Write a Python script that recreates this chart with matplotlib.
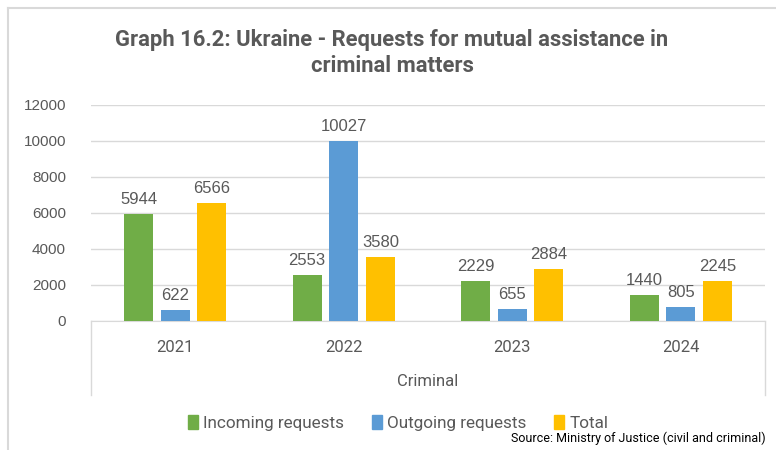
import matplotlib
matplotlib.use("Agg")
import matplotlib.pyplot as plt
from matplotlib.lines import Line2D
from matplotlib.patches import Patch

years = ["2021", "2022", "2023", "2024"]
incoming = [5944, 2553, 2229, 1440]
outgoing = [622, 10027, 655, 805]
total = [6566, 3580, 2884, 2245]
series_names = ["Incoming requests", "Outgoing requests", "Total"]
colors = ["#70AD47", "#5B9BD5", "#FFC000"]
yticks = [0, 2000, 4000, 6000, 8000, 10000, 12000]

W, H = 776, 450
fig = plt.figure(figsize=(W / 100, H / 100), dpi=100)
fig.patch.set_facecolor("white")

def fx(px):
    return px / W

def fy(py):
    return 1 - py / H

ax_l, ax_r, ax_t, ax_b = 91, 765, 105, 321
ax = fig.add_axes([fx(ax_l), fy(ax_b), fx(ax_r) - fx(ax_l), fy(ax_t) - fy(ax_b)])

gray = "#595959"
x = list(range(len(years)))
bw = 0.172
off = 0.218
for i, (vals, c) in enumerate(zip([incoming, outgoing, total], colors)):
    pos = [xi + (i - 1) * off for xi in x]
    bars = ax.bar(pos, vals, width=bw, color=c, zorder=3)
    for b, v in zip(bars, vals):
        ax.text(b.get_x() + b.get_width() / 2, v + 380, str(v), ha="center", va="bottom",
                fontsize=12, color=gray, family="Liberation Sans")

ax.set_xlim(-0.5, 3.5)
ax.set_ylim(0, 12000)
ax.set_yticks(yticks)
ax.set_yticklabels([str(t) for t in yticks], fontsize=11, color=gray, family="Liberation Sans")
ax.tick_params(axis="y", length=0, pad=18)
ax.set_xticks([])
ax.grid(axis="y", color="#D9D9D9", linewidth=1, zorder=0)
for s in ["top", "right", "left"]:
    ax.spines[s].set_visible(False)
ax.spines["bottom"].set_color("#D9D9D9")

# category labels
for xi, yl in zip(x, years):
    ax.annotate(yl, xy=(xi, 0), xycoords=("data", "axes fraction"), xytext=(0, -19),
                textcoords="offset points", ha="center", va="center", fontsize=12,
                color=gray, family="Roboto", annotation_clip=False)
fig.text((fx(ax_l) + fx(ax_r)) / 2, fy(381), "Criminal", ha="center", va="center",
         fontsize=12, color=gray, family="Roboto")

# category box lines
for px in (ax_l, ax_r):
    fig.add_artist(Line2D([fx(px), fx(px)], [fy(ax_b), fy(395)], color="#D9D9D9", lw=1))

# outer frame
fig.add_artist(Line2D([fx(8), fx(8)], [fy(8), 0], color="#D9D9D9", lw=1.5))
fig.add_artist(Line2D([fx(8), 1], [fy(8), fy(8)], color="#D9D9D9", lw=1.5))

# title
fig.text(fx(392), fy(40), "Graph 16.2: Ukraine - Requests for mutual assistance in",
         ha="center", va="center", fontsize=15.8, fontweight="bold", color=gray, family="Roboto")
fig.text(fx(392), fy(66), "criminal matters",
         ha="center", va="center", fontsize=15.8, fontweight="bold", color=gray, family="Roboto")

# legend
handles = [Patch(facecolor=c, edgecolor=c) for c in colors]
leg = fig.legend(handles, series_names, loc="center", bbox_to_anchor=(fx(398), fy(423)),
                 ncol=3, frameon=False, handlelength=0.6, handleheight=0.9,
                 handletextpad=0.3, columnspacing=1.6, prop={"family": "Roboto", "size": 12.3})
for t in leg.get_texts():
    t.set_color(gray)

fig.text(fx(766), fy(438), "Source: Ministry of Justice (civil and criminal)", ha="right",
         va="center", fontsize=9, color="black", family="Roboto")

fig.savefig("out.png", dpi=100)
